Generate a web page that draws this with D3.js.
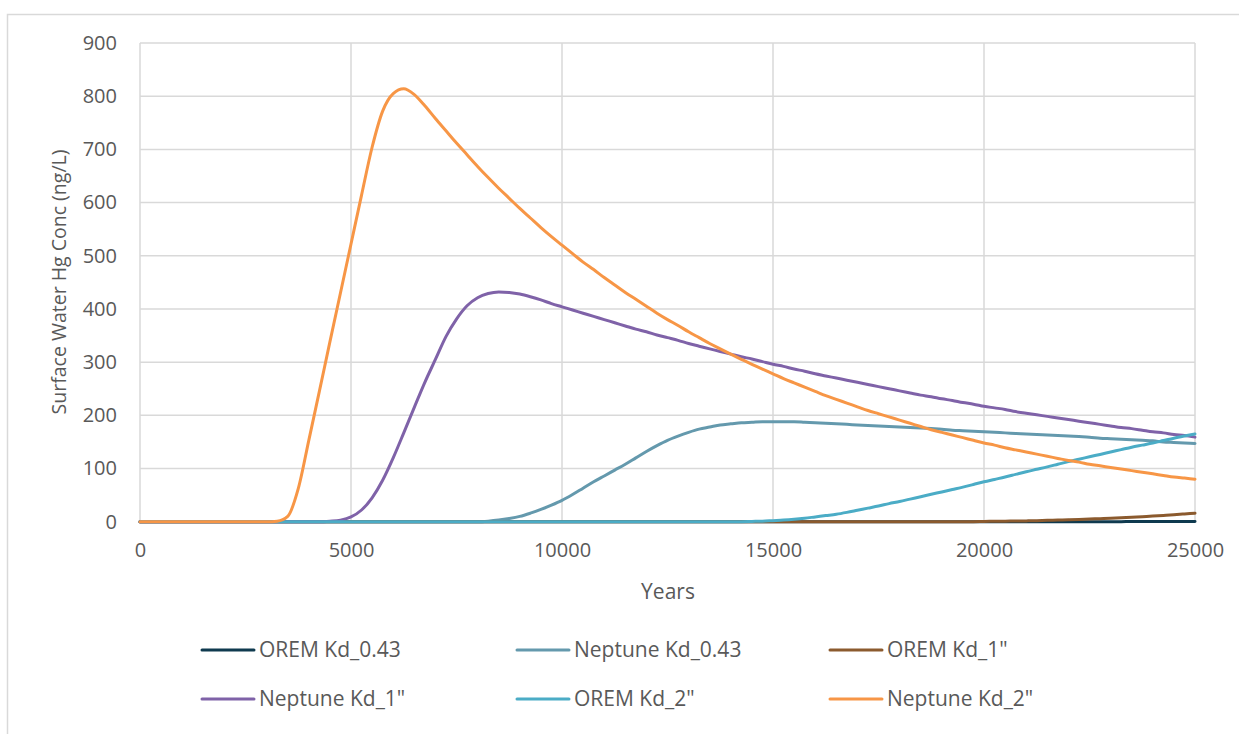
<!DOCTYPE html>
<html>
<head>
<meta charset="utf-8">
<script src="https://cdn.jsdelivr.net/npm/d3@7"></script>
<style>
  body { margin: 0; background: #fff; }
  svg { display: block; font-family: "Open Sans", "Noto Sans", sans-serif; }
</style>
</head>
<body>
<svg></svg>
<script>
// years sampled every 250, 0 .. 25000 (101 points)
var years = d3.range(0, 25001, 250);

var oremKd043 = [
  0,0,0,0,0,0,0,0,0,0, 0,0,0,0,0,0,0,0,0,0,
  0,0,0,0,0,0,0,0,0,0, 0,0,0,0,0,0,0,0,0,0,
  0,0,0,0,0,0,0,0,0,0, 0,0,0,0,0,0,0,0,0,0,
  0,0,0,0,0,0,0,0,0,0, 0,0,0,0,0,0,0,0,0,0,
  0,0,0,0,0,0,0,0,0,0, 0,0,
  0.1,0.1,0.2,0.2,0.3,0.3,0.4,0.5,0.6];
var neptuneKd043 = [
  0,0,0,0,0,0,0,0,0,0, 0,0,0,0,0,0,0,0,0,0,
  0,0,0,0,0,0,0,0,0,0, 0,0,0,
  1,3,6,10,16,23,31,40, 51,63,75,86,97,108,120,132,
  143,153,161,168,174,178,182,184, 186,187,188,188,188,188,187,186,
  185,184,183,182,181,180,179,178,177,176,
  175,174,172,171,170,169,168,167,166,165,
  164,163,162,161,160,159,157,156,155,154,
  153,152,150,149,148,147];
var oremKd1 = [
  0,0,0,0,0,0,0,0,0,0, 0,0,0,0,0,0,0,0,0,0,
  0,0,0,0,0,0,0,0,0,0, 0,0,0,0,0,0,0,0,0,0,
  0,0,0,0,0,0,0,0,0,0, 0,0,0,0,0,0,0,0,0,0,
  0,0,0,0,0,0,0,0,0,0, 0,0,0,0,0,0,0,0,0,0,
  0.5,0.7,1,1.2,1.5,2,2.5,3,3.5,4.2,
  5,5.7,6.5,7.5,8.5,9.5,10.5,11.7,13,14.5,16];
var neptuneKd1 = [
  0,0,0,0,0,0,0,0,0,0, 0,0,0,0,0,0,0,0,
  1,3,9,22,45,78,120,167,215,262,
  305,348,381,406,421,429,432,431,428,423,
  417,410,404,
  398,392,386,380,374,368,362,357,351,346,
  341,335,330,325,320,315,310,306,301,296,
  292,287,283,278,274,270,266,262,258,254,
  250,246,242,238,235,231,228,224,221,217,
  214,211,207,204,201,198,195,192,189,186,
  183,180,177,175,172,169,167,164,162,159];
var oremKd2 = [
  0,0,0,0,0,0,0,0,0,0, 0,0,0,0,0,0,0,0,0,0,
  0,0,0,0,0,0,0,0,0,0, 0,0,0,0,0,0,0,0,0,0,
  0,0,0,0,0,0,0,0,0,0, 0,0,0,0,0,0,0,0,
  0.5,1,2,3,4.5,6.5,9,11.5,14,17.5,
  21.5,25.5,29.5,34,38,42.5,47,51.5,56,60.5,
  65,70,75,79.5,84,89,94,98.5,103,108,
  113,117.5,122,126.5,131,135.5,140,144,148,152.5,
  157,161,165];
var neptuneKd2 = [
  0,0,0,0,0,0,0,0,0,0, 0,0,0,
  1,10,62,153,245,338,430,522,614,704,
  772,805,814,803,782,758,735,712,690,668,
  647,627,608,589,571,553,536,520,
  504,488,474,459,445,431,418,405,392,380,
  369,357,346,335,325,315,305,296,287,278,
  269,261,253,245,237,230,223,216,209,203,
  197,191,185,179,173,168,163,158,153,148,
  144,139,135,131,127,123,119,115,112,108,
  105,102,99,96,93,90,87,84,82,80];

var seriesNames = ["OREM Kd_0.43", "Neptune Kd_0.43", "OREM Kd_1\"", "Neptune Kd_1\"", "OREM Kd_2\"", "Neptune Kd_2\""];
var seriesValues = [oremKd043, neptuneKd043, oremKd1, neptuneKd1, oremKd2, neptuneKd2];
var seriesColors = ["#0f3a4f", "#6499ad", "#8b5a2e", "#7f62a8", "#4bacc6", "#f79646"];

var xTicks = [0, 5000, 10000, 15000, 20000, 25000];
var yTicks = [0, 100, 200, 300, 400, 500, 600, 700, 800, 900];

var viewWidth = 1239, viewHeight = 734;
var margin = {top: 43, left: 140};
var width = 1195 - margin.left;
var height = 521.7 - margin.top;

var root = d3.select("svg")
    .attr("width", viewWidth)
    .attr("height", viewHeight);

// outer chart border
root.append("rect")
    .attr("x", 7.5).attr("y", 14.5)
    .attr("width", 1260).attr("height", 760)
    .attr("fill", "#fff")
    .attr("stroke", "#d9d9d9")
    .attr("stroke-width", 1.5);

var svg = root.append("g")
    .attr("transform", "translate(" + margin.left + "," + margin.top + ")");

var x = d3.scaleLinear().domain([0, 25000]).range([0, width]);
var y = d3.scaleLinear().domain([0, 900]).range([height, 0]);

// gridlines
svg.append("g").selectAll("line")
  .data(yTicks).enter().append("line")
    .attr("x1", 0).attr("x2", width)
    .attr("y1", function(d) { return y(d); })
    .attr("y2", function(d) { return y(d); })
    .attr("stroke", "#d9d9d9").attr("stroke-width", 1.5);
svg.append("g").selectAll("line")
  .data(xTicks).enter().append("line")
    .attr("x1", function(d) { return x(d); })
    .attr("x2", function(d) { return x(d); })
    .attr("y1", 0).attr("y2", height)
    .attr("stroke", "#d9d9d9").attr("stroke-width", 1.5);

var yAxis = d3.axisLeft(y).tickValues(yTicks).tickSize(0).tickPadding(23).tickFormat(d3.format("d"));
var xAxis = d3.axisBottom(x).tickValues(xTicks).tickSize(0).tickPadding(21).tickFormat(d3.format("d"));

var yg = svg.append("g").call(yAxis);
var xg = svg.append("g").attr("transform", "translate(0," + height + ")").call(xAxis);
[yg, xg].forEach(function(g) {
  g.select(".domain").remove();
  g.selectAll("text")
    .attr("fill", "#595959")
    .style("font-size", "20px")
    .style("font-family", "\"Open Sans\", sans-serif");
});

// series lines
var line = d3.line()
    .x(function(d, i) { return x(years[i]); })
    .y(function(d) { return y(d); })
    .curve(d3.curveMonotoneX);

svg.append("g").selectAll("path")
  .data(seriesValues).enter().append("path")
    .attr("d", function(d) { return line(d); })
    .attr("fill", "none")
    .attr("stroke", function(d, i) { return seriesColors[i]; })
    .attr("stroke-width", 3)
    .attr("stroke-linejoin", "round")
    .attr("stroke-linecap", "round");

// axis titles
root.append("text")
    .attr("x", 668).attr("y", 599)
    .attr("text-anchor", "middle")
    .attr("fill", "#595959")
    .style("font-size", "21px")
    .text("Years");
root.append("text")
    .attr("transform", "translate(66,282) rotate(-90)")
    .attr("text-anchor", "middle")
    .attr("fill", "#595959")
    .style("font-size", "19.5px")
    .text("Surface Water Hg Conc (ng/L)");

// legend
var legendX = [202, 517, 830];
var legendY = [650, 699];
var legend = root.append("g").selectAll("g")
  .data(seriesNames).enter().append("g")
    .attr("transform", function(d, i) {
      return "translate(" + legendX[i % 3] + "," + legendY[Math.floor(i / 3)] + ")";
    });
legend.append("line")
    .attr("x1", 0).attr("x2", 52)
    .attr("stroke", function(d, i) { return seriesColors[i]; })
    .attr("stroke-width", 3)
    .attr("stroke-linecap", "round");
legend.append("text")
    .attr("x", 57).attr("dy", "0.35em")
    .attr("fill", "#595959")
    .style("font-size", "21px")
    .text(function(d) { return d; });
</script>
</body>
</html>
